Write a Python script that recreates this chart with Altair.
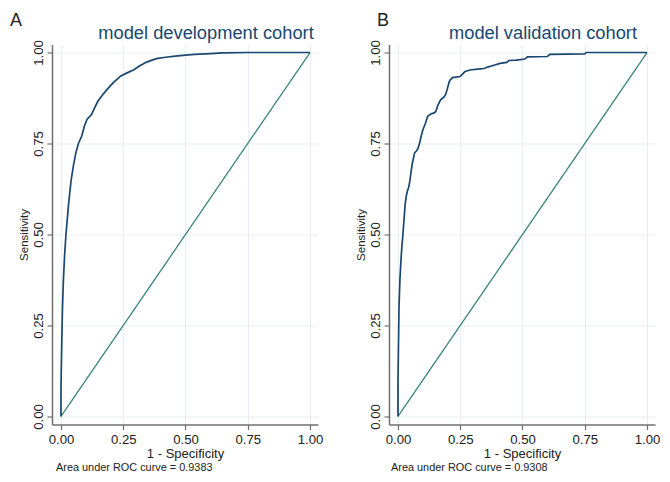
import altair as alt
import pandas as pd

# Development cohort ROC (1 - specificity, sensitivity)
dev_fpr = [0, 0, 0.003, 0.006, 0.010, 0.015, 0.020, 0.030, 0.040, 0.050, 0.060, 0.070,
           0.083, 0.095, 0.105, 0.122, 0.135, 0.148, 0.165, 0.187, 0.210, 0.239, 0.265,
           0.291, 0.315, 0.342, 0.365, 0.388, 0.420, 0.459, 0.500, 0.537, 0.600, 0.650,
           0.750, 1.0]
dev_tpr = [0, 0.08, 0.20, 0.30, 0.38, 0.45, 0.50, 0.58, 0.645, 0.69, 0.725, 0.75,
           0.77, 0.80, 0.817, 0.829, 0.848, 0.866, 0.882, 0.900, 0.917, 0.935, 0.944,
           0.952, 0.963, 0.973, 0.979, 0.984, 0.987, 0.990, 0.993, 0.995, 0.997, 0.999,
           1.0, 1.0]

# Validation cohort ROC
val_fpr = [0, 0, 0.002, 0.004, 0.008, 0.012, 0.016, 0.019, 0.024, 0.029, 0.033, 0.038,
           0.043, 0.048, 0.052, 0.057, 0.062, 0.067, 0.075, 0.081, 0.087, 0.093, 0.100,
           0.110, 0.119, 0.132, 0.145, 0.152, 0.160, 0.171, 0.185, 0.191, 0.197, 0.200,
           0.206, 0.210, 0.219, 0.249, 0.258, 0.268, 0.288, 0.330, 0.346, 0.360, 0.385,
           0.410, 0.437, 0.445, 0.475, 0.509, 0.520, 0.600, 0.610, 0.750, 0.755, 1.0]
val_tpr = [0, 0.10, 0.20, 0.30, 0.38, 0.43, 0.47, 0.493, 0.54, 0.584, 0.605, 0.620,
           0.630, 0.648, 0.670, 0.693, 0.710, 0.725, 0.730, 0.738, 0.752, 0.770, 0.788,
           0.805, 0.825, 0.831, 0.834, 0.838, 0.855, 0.870, 0.878, 0.884, 0.897, 0.905,
           0.920, 0.925, 0.931, 0.934, 0.940, 0.947, 0.952, 0.955, 0.956, 0.960, 0.965,
           0.970, 0.973, 0.978, 0.979, 0.982, 0.988, 0.989, 0.995, 0.996, 1.0, 1.0]

diag = [0, 1]
ticks = [0, 0.25, 0.5, 0.75, 1]

panel_letters = ["A", "B"]
panel_titles = ["model development cohort", "model validation cohort"]
auc_notes = ["Area under ROC curve = 0.9383", "Area under ROC curve = 0.9308"]

FONT = "Liberation Sans"
NAVY = "#1a476f"
TEAL = "#3a8577"
W, H = 266, 380


def text_layer(txt, x, y, size, color, align="left"):
    return alt.Chart(pd.DataFrame({"t": [txt]})).mark_text(
        align=align, baseline="alphabetic", fontSize=size, font=FONT, color=color
    ).encode(x=alt.value(x), y=alt.value(y), text="t:N")


def panel(fpr, tpr, letter, title, note, letter_x, note_x):
    df = pd.DataFrame({"fpr": fpr, "tpr": tpr, "i": list(range(len(fpr)))})
    dg = pd.DataFrame({"fpr": diag, "tpr": diag, "i": [0, 1]})
    xs = alt.Scale(domain=[-0.0361, 1.0321], nice=False, zero=False)
    ys = alt.Scale(domain=[-0.022, 1.022], nice=False, zero=False)
    x = alt.X("fpr:Q", scale=xs,
              axis=alt.Axis(values=ticks, format=".2f", title="1 - Specificity",
                            labelFontSize=13.2, titleFontSize=13, labelPadding=4,
                            titlePadding=2))
    y = alt.Y("tpr:Q", scale=ys,
              axis=alt.Axis(values=ticks, format=".2f", title="Sensitivity",
                            labelAngle=270, labelAlign="center", labelBaseline="bottom",
                            labelFontSize=13.2, titleFontSize=11.5, labelPadding=2,
                            titlePadding=2))
    diag_line = alt.Chart(dg).mark_line(color=TEAL, strokeWidth=1.3).encode(
        x=x, y=y, order="i:Q")
    roc = alt.Chart(df).mark_line(color=NAVY, strokeWidth=1.7).encode(
        x=x, y=y, order="i:Q")
    lab = text_layer(letter, letter_x, -19, 18, "#222222")
    ttl = text_layer(title, 154, -6, 18.3, NAVY, align="center")
    nt = text_layer(note, note_x, H + 46, 10.9, "#222222")
    return alt.layer(diag_line, roc, lab, ttl, nt).properties(width=W, height=H)


left = panel(dev_fpr, dev_tpr, panel_letters[0], panel_titles[0], auc_notes[0], -42, 4)
right = panel(val_fpr, val_tpr, panel_letters[1], panel_titles[1], auc_notes[1], -12, 2)

chart = alt.hconcat(left, right, spacing=32).configure(
    font=FONT, padding={"left": 2, "top": 3.5, "right": 0, "bottom": 0}
).configure_view(stroke=None).configure_axis(
    grid=True, gridColor="#e6eff1", gridWidth=1,
    domainColor="#6f6f6f", domainWidth=1.5, tickColor="#6f6f6f", tickSize=5,
    tickWidth=1.2, labelColor="#222222", titleColor="#222222",
    labelFont=FONT, titleFont=FONT, titleFontWeight="normal"
)

chart.save("out.html", embed_options={"renderer": "svg", "actions": False})
